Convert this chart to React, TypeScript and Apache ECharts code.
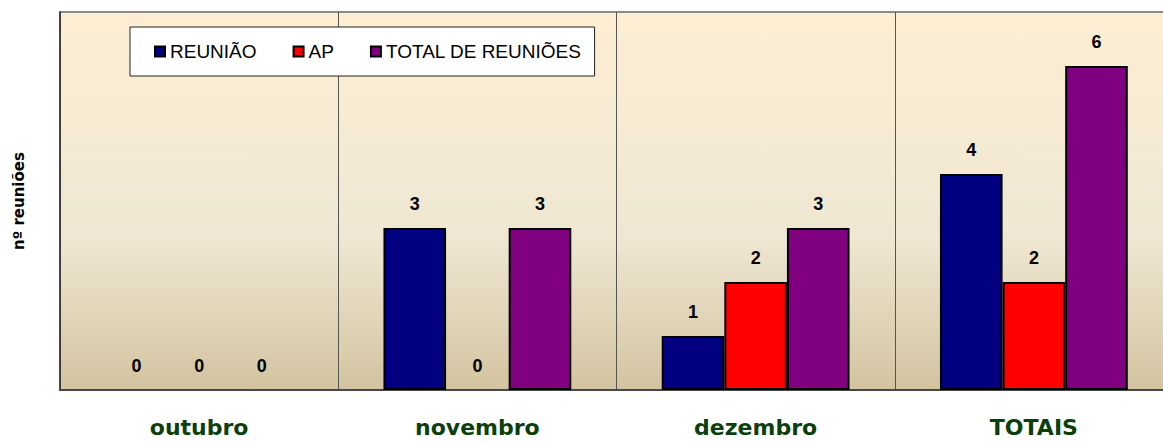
import React, { useEffect, useRef } from "react";
import * as echarts from "echarts";

const categories = ["outubro", "novembro", "dezembro", "TOTAIS"];
const reuniao = [0, 3, 1, 4];
const ap = [0, 0, 2, 2];
const totalReunioes = [0, 3, 3, 6];
const seriesNames = ["REUNIÃO", "AP", "TOTAL DE REUNIÕES"];
const seriesColors = ["#000080", "#ff0000", "#800080"];

export default function App() {
  const ref = useRef<HTMLDivElement>(null);
  useEffect(() => {
    if (!ref.current) return;
    const chart = echarts.init(ref.current, undefined, { renderer: "svg" });
    const data = [reuniao, ap, totalReunioes];
    chart.setOption({
      animation: false,
      backgroundColor: "#ffffff",
      grid: {
        left: 60,
        top: 12,
        width: 1113,
        height: 378,
        show: true,
        borderColor: "#8a8a8a",
        borderWidth: 2,
        backgroundColor: new echarts.graphic.LinearGradient(0, 0, 0, 1, [
          { offset: 0, color: "#fdeed3" },
          { offset: 0.6, color: "#efe7d3" },
          { offset: 1, color: "#d3c4a0" },
        ]),
      },
      legend: {
        left: 130,
        top: 27,
        orient: "horizontal",
        backgroundColor: "#ffffff",
        borderColor: "#222222",
        borderWidth: 1,
        padding: [15, 13, 15, 24],
        itemGap: 36,
        itemWidth: 10,
        itemHeight: 10,
        icon: "rect",
        textStyle: {
          fontFamily: "Liberation Sans, Arial, sans-serif",
          fontSize: 19,
          color: "#000000",
        },
        data: seriesNames,
      },
      xAxis: {
        type: "category",
        data: categories,
        axisLine: { lineStyle: { color: "#333333", width: 1.5 } },
        axisTick: { show: false },
        splitLine: { show: true, lineStyle: { color: "#555555", width: 1 } },
        axisLabel: {
          margin: 26,
          color: "#0b3f0b",
          fontFamily: "DejaVu Sans, Verdana, sans-serif",
          fontWeight: "bold",
          fontSize: 22,
        },
      },
      yAxis: {
        type: "value",
        min: 0,
        max: 7,
        axisLine: { show: true, lineStyle: { color: "#333333", width: 1.5 } },
        axisTick: { show: false },
        axisLabel: { show: false },
        splitLine: { show: false },
        name: "nº reuniões",
        nameLocation: "middle",
        nameRotate: 90,
        nameGap: 34,
        nameTextStyle: {
          fontFamily: "DejaVu Sans, sans-serif",
          fontWeight: "bold",
          fontSize: 15,
          color: "#000000",
        },
      },
      series: seriesNames.map((name, i) => ({
        name,
        type: "bar",
        data: data[i].map((v) =>
          v === 0 ? { value: v, itemStyle: { borderWidth: 0 } } : v
        ),
        barGap: "0%",
        barCategoryGap: "32.5%",
        itemStyle: {
          color: seriesColors[i],
          borderColor: "#000000",
          borderWidth: 2,
        },
        label: {
          show: true,
          position: "top",
          distance: 15,
          fontFamily: "Liberation Sans, Arial, sans-serif",
          fontWeight: "bold",
          fontSize: 18,
          color: "#000000",
        },
      })),
    });
    return () => chart.dispose();
  }, []);
  return (
    <div
      ref={ref}
      style={{ position: "fixed", left: 0, top: 0, width: 1190, height: 443 }}
    />
  );
}
